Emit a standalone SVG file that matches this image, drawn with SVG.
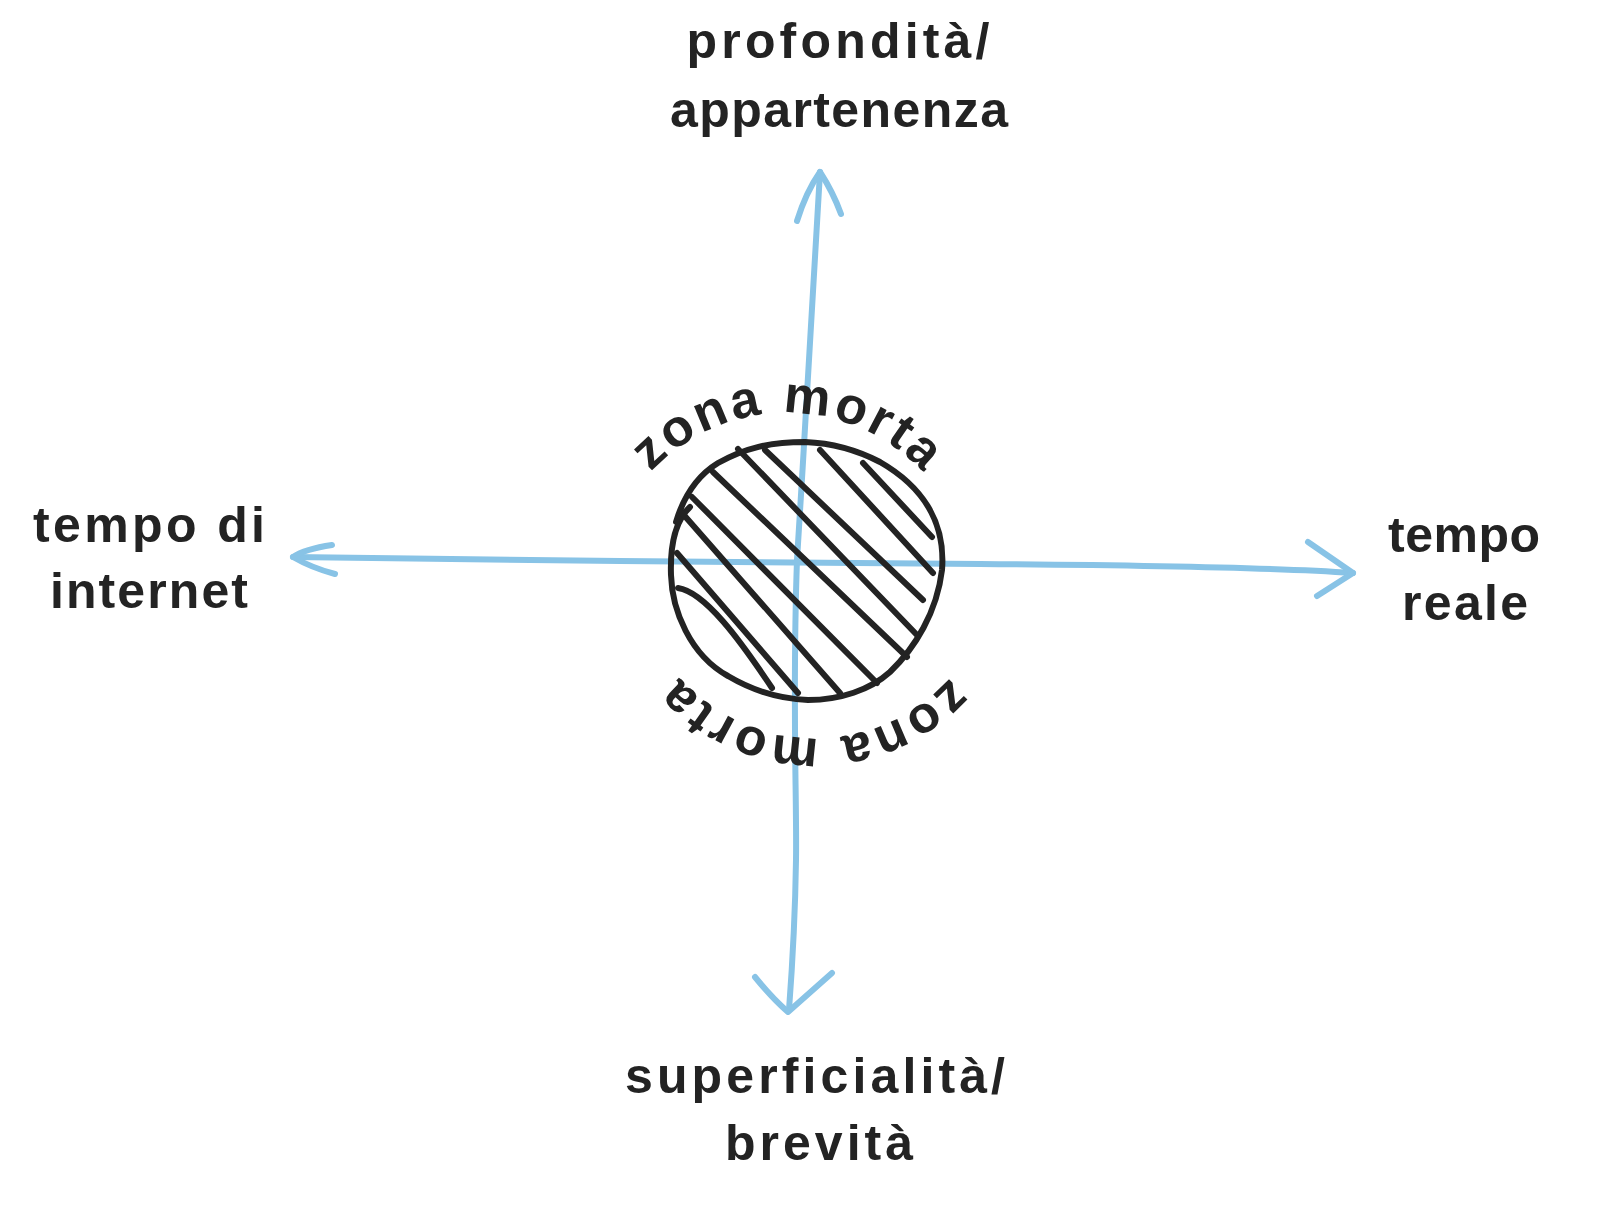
<svg xmlns="http://www.w3.org/2000/svg" width="1600" height="1216" viewBox="0 0 1600 1216">
<defs>
<style>
.axis{fill:none;stroke:#88C3E6;stroke-width:6;stroke-linecap:round;stroke-linejoin:round}
.ink{fill:none;stroke:#232323;stroke-width:6;stroke-linecap:round;stroke-linejoin:round}
.lbl{font-family:"Liberation Sans",Arial,sans-serif;font-weight:700;font-size:50px;fill:#232323;text-anchor:middle}
.arc{font-size:52px}
</style>
<path id="arcTop" d="M 644 480 A 186 186 0 0 1 930 480"/>
<path id="arcBot" d="M 954 673 A 181 181 0 0 1 676 673"/>
</defs>
<rect width="1600" height="1216" fill="#ffffff"/>

<g id="connectors">
  <path class="axis" d="M 820 172 C 814 260 806 420 797 560 C 792 700 797 800 796 860 C 795 930 792 970 789 1010"/>
  <path class="axis" d="M 797 221 Q 806 192 820 172 Q 833 192 841 214"/>
  <path class="axis" d="M 755 977 Q 772 998 788 1012 L 832 973"/>
  <path class="axis" d="M 293 557 L 620 561 L 980 564 Q 1250 566 1353 573"/>
  <path class="axis" d="M 332 545 Q 305 549 293 557 Q 312 568 335 574"/>
  <path class="axis" d="M 1308 542 L 1353 573 L 1317 596"/>
</g>

<g id="zona-morta">
  <path class="ink" d="M 690 507 C 676 520 670 545 671 575 C 672 610 690 655 728 676 C 755 692 782 699 808 700 C 840 700 870 690 890 672 C 915 648 937 612 942 570 C 946 520 920 485 880 462 C 855 449 830 443 805 442 C 770 442 745 448 718 463 C 700 474 685 492 676 522"/>
  <path class="ink" d="M 863 463 L 932 537"/>
  <path class="ink" d="M 820 450 L 933 573"/>
  <path class="ink" d="M 765 450 L 923 600"/>
  <path class="ink" d="M 738 449 L 917 635"/>
  <path class="ink" d="M 713 472 L 907 657"/>
  <path class="ink" d="M 692 497 L 877 683"/>
  <path class="ink" d="M 683 514 L 840 693"/>
  <path class="ink" d="M 677 553 L 798 693"/>
  <path class="ink" d="M 678 588 C 705 592 740 640 772 688"/>
  <text class="lbl arc"><textPath href="#arcTop" startOffset="50%" textLength="305" lengthAdjust="spacing">zona morta</textPath></text>
  <text class="lbl arc"><textPath href="#arcBot" startOffset="50%" textLength="305" lengthAdjust="spacing">zona morta</textPath></text>
</g>

<g id="top-label">
  <text class="lbl" x="838" y="58" textLength="303" lengthAdjust="spacing">profondità/</text>
  <text class="lbl" x="839" y="127" textLength="338" lengthAdjust="spacing">appartenenza</text>
</g>

<g id="left-label">
  <text class="lbl" x="149" y="542" textLength="232" lengthAdjust="spacing">tempo di</text>
  <text class="lbl" x="149" y="608" textLength="198" lengthAdjust="spacing">internet</text>
</g>

<g id="right-label">
  <text class="lbl" x="1464" y="552" textLength="152" lengthAdjust="spacing">tempo</text>
  <text class="lbl" x="1465" y="620" textLength="126" lengthAdjust="spacing">reale</text>
</g>

<g id="bottom-label">
  <text class="lbl" x="815" y="1093" textLength="380" lengthAdjust="spacing">superficialità/</text>
  <text class="lbl" x="819" y="1160" textLength="188" lengthAdjust="spacing">brevità</text>
</g>
</svg>
